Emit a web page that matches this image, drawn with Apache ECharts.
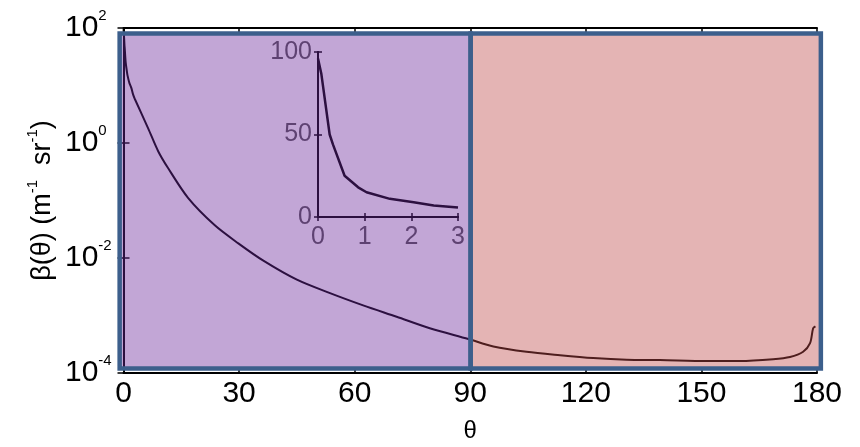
<!DOCTYPE html>
<html>
<head>
<meta charset="utf-8">
<script src="https://cdn.jsdelivr.net/npm/echarts@6/dist/echarts.min.js"></script>
<style>
  html, body { margin: 0; padding: 0; background: #fff; }
  #chart { width: 860px; height: 447px; }
</style>
</head>
<body>
<div id="chart"></div>
<script>
// Scattering angle (degrees) and volume scattering function values
const theta = [0, 0.07, 0.25, 0.32, 0.57, 0.86, 1.04, 1.54, 2.05, 2.48, 3.0,
  6.4, 9.0, 11.6, 16.8, 23.7, 29.8, 36.3, 45, 53.6, 62.2, 70.9, 79.5, 89.5,
  96, 104.6, 113.3, 121.9, 130.6, 139.2, 151.4, 160, 168.6, 173, 176.4, 178.2, 179, 179.6];
const beta = [96, 87, 50, 44, 25, 18, 15, 11, 9, 7, 5.7,
  1.8, 0.72, 0.363, 0.11, 0.037, 0.018, 0.009, 0.0042, 0.00245, 0.0015, 0.00095, 0.0006, 0.00039,
  0.00029, 0.000234, 0.000204, 0.000182, 0.00017, 0.000168, 0.000162, 0.000162, 0.000174, 0.00019, 0.000234, 0.00033, 0.0006, 0.00065];

// Tick values
const xTicks = [0, 30, 60, 90, 120, 150, 180];
const insetXTicks = [0, 1, 2, 3];
const insetYTicks = [0, 50, 100];

// Shaded angular ranges: forward and backward hemispheres
const regionFrom = [-1.0, 90.1];
const regionTo = [90.1, 181.0];
const regionLow = [1.2e-4, 1.2e-4];
const regionHigh = [80, 80];
const regionFill = ['rgba(106,40,155,0.41)', 'rgba(189,72,72,0.41)'];

// Inset shows the first few degrees on a linear scale
const insetMaxTheta = 3;

const FONT = 'Liberation Sans, Arial, sans-serif';
const mainPts = theta.map((t, i) => [t, beta[i]]);
const insetPts = mainPts.filter(p => p[0] <= insetMaxTheta);
const regionData = regionFrom.map((f, i) => [f, regionTo[i], regionLow[i], regionHigh[i], i]);

const chart = echarts.init(document.getElementById('chart'), null, { renderer: 'canvas' });

const frameAxis = {
  axisLine: { show: true, lineStyle: { color: '#000', width: 2 } },
  axisTick: { show: true, inside: true, length: 6, lineStyle: { color: '#000', width: 1.5 } },
  splitLine: { show: false }
};
const insetTick = { show: true, inside: true, length: 4, lineStyle: { color: '#000', width: 1.5 } };

function rectItem(fill, stroke, lw) {
  return function (params, api) {
    const p0 = api.coord([api.value(0), api.value(3)]);
    const p1 = api.coord([api.value(1), api.value(2)]);
    return {
      type: 'rect',
      shape: { x: p0[0], y: p0[1], width: p1[0] - p0[0], height: p1[1] - p0[1] },
      style: fill
        ? { fill: regionFill[api.value(4)], stroke: null }
        : { fill: null, stroke: stroke, lineWidth: lw }
    };
  };
}

const option = {
  animation: false,
  backgroundColor: '#fff',
  grid: [
    { left: 123.5, right: 43, top: 28, bottom: 74, outerBoundsMode: 'none', containLabel: false },
    { left: 318, top: 52, width: 140, height: 165, outerBoundsMode: 'none', containLabel: false }
  ],
  xAxis: [
    Object.assign({}, frameAxis, {
      gridIndex: 0, type: 'value', position: 'bottom', min: 0, max: 180, interval: 30,
      name: 'θ', nameLocation: 'middle', nameGap: 46,
      nameTextStyle: { fontFamily: FONT, fontSize: 24, color: '#000' },
      axisLabel: { margin: 6, fontFamily: FONT, fontSize: 30, color: '#000',
        formatter: v => (xTicks.indexOf(v) >= 0 ? String(v) : '') }
    }),
    Object.assign({}, frameAxis, {
      gridIndex: 0, type: 'value', position: 'top', min: 0, max: 180, interval: 30,
      axisLabel: { show: false }
    }),
    Object.assign({}, frameAxis, {
      gridIndex: 1, type: 'value', position: 'bottom', min: 0, max: 3, interval: 1,
      axisTick: insetTick,
      axisLabel: { margin: 8, fontFamily: FONT, fontSize: 25, color: '#555',
        formatter: v => (insetXTicks.indexOf(v) >= 0 ? String(v) : '') }
    }),
    Object.assign({}, frameAxis, {
      gridIndex: 1, type: 'value', position: 'top', min: 0, max: 3, interval: 1,
      axisTick: insetTick, axisLabel: { show: false }
    })
  ],
  yAxis: [
    Object.assign({}, frameAxis, {
      gridIndex: 0, type: 'log', logBase: 10, position: 'left', min: 1e-4, max: 100, interval: 2,
      name: '{b|β(θ) (m}{s|-1}{b|  sr}{s|-1}{b|)}', nameLocation: 'middle', nameGap: 64,
      nameMoveOverlap: false,
      nameTextStyle: {
        rich: {
          b: { fontFamily: FONT, fontSize: 27, color: '#000', lineHeight: 34 },
          s: { fontFamily: FONT, fontSize: 15, color: '#000', lineHeight: 14, verticalAlign: 'top' }
        }
      },
      axisLabel: {
        margin: 58.5, align: 'left',
        formatter: v => '{b|10}{s|' + Math.round(Math.log10(v)) + '}',
        rich: {
          b: { fontFamily: FONT, fontSize: 30, color: '#000', lineHeight: 40 },
          s: { fontFamily: FONT, fontSize: 15, color: '#000', lineHeight: 13, verticalAlign: 'top' }
        }
      }
    }),
    Object.assign({}, frameAxis, {
      gridIndex: 0, type: 'log', logBase: 10, position: 'right', min: 1e-4, max: 100, interval: 2,
      axisLabel: { show: false }
    }),
    Object.assign({}, frameAxis, {
      gridIndex: 1, type: 'value', position: 'left', min: 0, max: 100, interval: 50,
      axisTick: insetTick,
      axisLabel: { margin: 6, fontFamily: FONT, fontSize: 25, color: '#555',
        formatter: v => (insetYTicks.indexOf(v) >= 0 ? String(v) : '') }
    }),
    Object.assign({}, frameAxis, {
      gridIndex: 1, type: 'value', position: 'right', min: 0, max: 100, interval: 50,
      axisTick: insetTick, axisLabel: { show: false }
    })
  ],
  series: [
    {
      type: 'line', xAxisIndex: 0, yAxisIndex: 0, data: mainPts,
      showSymbol: false, smooth: 0.3,
      lineStyle: { color: '#000', width: 2 }, z: 2
    },
    {
      type: 'line', xAxisIndex: 2, yAxisIndex: 2, data: insetPts,
      showSymbol: false, lineStyle: { color: '#000', width: 2.5 }, z: 2
    },
    {
      type: 'custom', xAxisIndex: 0, yAxisIndex: 0, data: regionData, clip: false, z: 10,
      encode: { x: [0, 1], y: [2, 3] },
      renderItem: rectItem(true), silent: true
    },
    {
      type: 'custom', xAxisIndex: 0, yAxisIndex: 0, data: regionData, clip: false, z: 11,
      encode: { x: [0, 1], y: [2, 3] },
      renderItem: rectItem(false, '#3c5f8c', 4.5), silent: true
    }
  ]
};

chart.setOption(option);
</script>
</body>
</html>
